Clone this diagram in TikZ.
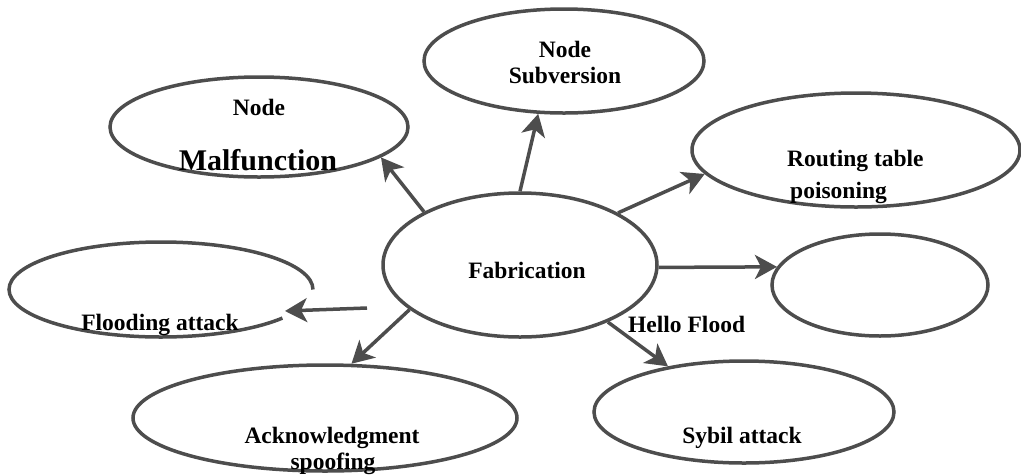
\documentclass[tikz,border=0pt]{standalone}
\usepackage{fontspec}
\setmainfont{Liberation Serif}
\usetikzlibrary{shapes.geometric,arrows.meta}
\definecolor{linec}{RGB}{77,77,77}
\begin{document}
\begin{tikzpicture}[x=1pt,y=-1pt,
  ell/.style={ellipse,draw=linec,line width=3.5pt,inner sep=0pt},
  lbl/.style={inner sep=0pt,font=\bfseries\fontsize{23.5}{26}\selectfont,text=black},
  arr/.style={draw=linec,line width=3.5pt,-{Stealth[length=22pt,width=24pt,inset=6pt]}}]
\useasboundingbox (0,0) rectangle (1021,475);
% ellipses
\node[ell,minimum width=298pt,minimum height=100pt] (mal) at (259,127) {};
\node[ell,minimum width=280pt,minimum height=104pt] (sub) at (564,61) {};
\node[ell,minimum width=328pt,minimum height=114pt] (rout) at (856,150) {};
\node[ell,minimum width=216pt,minimum height=102pt] (emp) at (880,285) {};
\node[ell,minimum width=274pt,minimum height=144pt] (fab) at (520,265) {};
\node[ell,minimum width=384pt,minimum height=106pt] (ack) at (325,418) {};
\node[ell,minimum width=300pt,minimum height=102pt] (syb) at (744,412) {};
\draw[linec,line width=3.5pt] (313,289.5) arc[start angle=0,end angle=-323,x radius=152,y radius=47.5];
% connectors
\coordinate (flstart) at (367,308);
\coordinate (fltip) at (285,311);
\draw[arr] (fab.151) -- (mal.-14);
\draw[arr] (fab.90) -- (sub.-116);
\draw[arr] (fab.28) -- (rout.189);
\draw[arr] (fab.-1) -- (emp.170);
\draw[arr] (flstart) -- (fltip);
\draw[arr] (fab.202) -- (ack.64);
\draw[arr] (fab.-33) -- (syb.149);
% labels
\node[lbl,anchor=base] (tmal1) at (259,115) {Node};
\node[lbl,anchor=base,font=\bfseries\fontsize{30}{32}\selectfont] (tmal2) at (258,170) {Malfunction};
\node[lbl,anchor=base] (tsub1) at (565,57) {Node};
\node[lbl,anchor=base] (tsub2) at (565,83) {Subversion};
\node[lbl,anchor=base west] (trt1) at (787,166) {Routing table};
\node[lbl,anchor=base west] (trt2) at (790,198) {poisoning};
\node[lbl,anchor=base] (tfab) at (527,278) {Fabrication};
\node[lbl,anchor=base west] (thello) at (628,332) {Hello Flood};
\node[lbl,anchor=base] (tfl) at (160,330) {Flooding attack};
\node[lbl,anchor=base] (tack1) at (332,443) {Acknowledgment};
\node[lbl,anchor=base] (tack2) at (333,469) {spoofing};
\node[lbl,anchor=base] (tsyb) at (742,443) {Sybil attack};
\end{tikzpicture}
\end{document}
